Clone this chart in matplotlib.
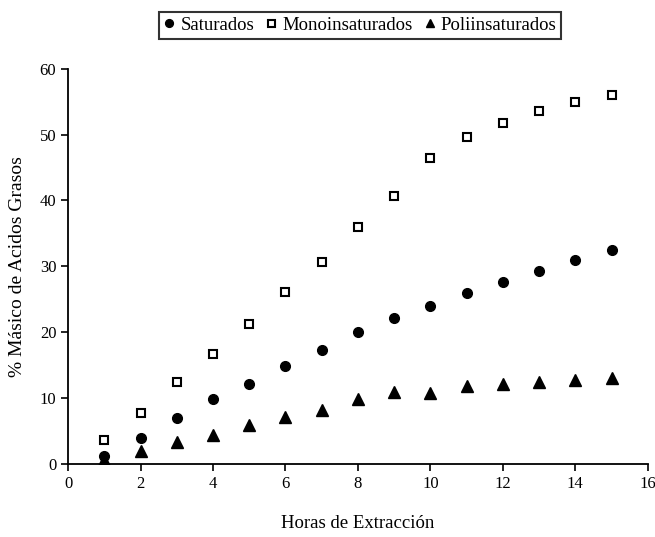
import matplotlib
matplotlib.use("Agg")
import matplotlib.pyplot as plt

plt.rcParams['font.family'] = ['Liberation Serif', 'DejaVu Serif']

horas = [1, 2, 3, 4, 5, 6, 7, 8, 9, 10, 11, 12, 13, 14, 15]
saturados = [1.2, 4.0, 7.0, 9.8, 12.1, 14.9, 17.3, 20.0, 22.2, 24.0, 25.9, 27.6, 29.3, 31.0, 32.5]
monoinsat = [3.6, 7.7, 12.4, 16.7, 21.3, 26.1, 30.7, 35.9, 40.7, 46.5, 49.7, 51.8, 53.6, 54.9, 56.0]
poliinsat = [0.6, 2.0, 3.3, 4.4, 5.9, 7.1, 8.2, 9.9, 10.9, 10.8, 11.9, 12.2, 12.5, 12.8, 13.0]

fig = plt.figure(figsize=(6.55, 5.37), dpi=100)
ax = fig.add_axes([0.104, 0.136, 0.885, 0.736])

ax.plot(horas, saturados, 'o', color='black', markersize=7, label='Saturados')
ax.plot(horas, monoinsat, 's', markerfacecolor='white', markeredgecolor='black',
        markeredgewidth=1.5, markersize=6.3, label='Monoinsaturados')
ax.plot(horas, poliinsat, '^', color='black', markersize=8, label='Poliinsaturados')

ax.set_xlim(0, 16)
ax.set_ylim(0, 60)
ax.set_xticks(range(0, 17, 2))
ax.set_yticks(range(0, 61, 10))
ax.spines['top'].set_visible(False)
ax.spines['right'].set_visible(False)
ax.spines['left'].set_linewidth(1.3)
ax.spines['bottom'].set_linewidth(1.3)
ax.tick_params(direction='out', length=5, width=1.2, labelsize=12)

ax.set_xlabel('Horas de Extracción', fontsize=13.5, labelpad=17)
ax.set_ylabel('% Másico de Acidos Grasos', fontsize=14, labelpad=10)

leg = fig.legend(loc='upper center', bbox_to_anchor=(0.55, 0.995), ncol=3, fontsize=13.5,
                 frameon=True, fancybox=False, edgecolor='black', handlelength=0.6,
                 handletextpad=0.3, columnspacing=0.6, borderpad=0.25, markerscale=0.8)
leg.get_frame().set_linewidth(1.5)

fig.savefig('out.png', dpi=100)
